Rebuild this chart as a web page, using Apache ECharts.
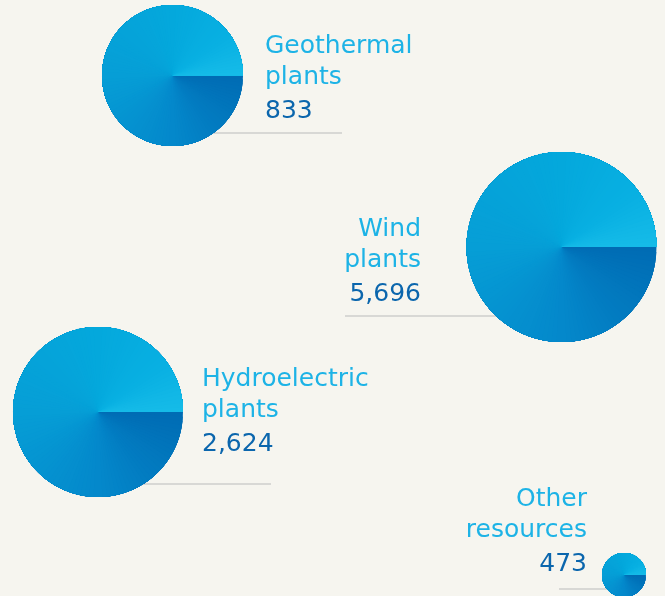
<!DOCTYPE html>
<html>
<head>
<meta charset="utf-8">
<script src="https://cdn.jsdelivr.net/npm/echarts@6/dist/echarts.min.js"></script>
<style>
  html, body { margin: 0; padding: 0; background: #f6f5ef; }
  #main { width: 665px; height: 596px; }
</style>
</head>
<body>
<div id="main"></div>
<script>
// 数据
const categories = ['Geothermal\nplants', 'Wind\nplants', 'Hydroelectric\nplants', 'Other\nresources']
const plantCounts = [833, 5696, 2624, 473]

// 位置和样式 (圆心, 半径, 文字, 灰线)
const layout = [
  { cx: 172.5, cy: 75.5, r: 70.5, textX: 265, align: 'left', nameY: 46, line: [172, 342, 133] },
  { cx: 561.5, cy: 247, r: 95, textX: 421, align: 'right', nameY: 229, line: [345, 560, 316] },
  { cx: 98, cy: 412, r: 85, textX: 202, align: 'left', nameY: 379, line: [98, 271, 484] },
  { cx: 624, cy: 575, r: 22, textX: 587, align: 'right', nameY: 499.5, line: [559, 624, 589] }
]

// 圆锥渐变颜色 (从3点钟方向顺时针: 深 -> 浅)
const colorStops = [
  [0, [0, 108, 180]],
  [0.25, [4, 136, 203]],
  [0.5, [6, 158, 214]],
  [0.75, [4, 168, 220]],
  [0.9, [8, 176, 226]],
  [1, [22, 187, 232]]
]

function colorAt (t) {
  for (let i = 1; i < colorStops.length; i++) {
    if (t <= colorStops[i][0]) {
      let a = colorStops[i - 1]
      let b = colorStops[i]
      let k = (t - a[0]) / (b[0] - a[0])
      let c = a[1].map((v, j) => Math.round(v + (b[1][j] - v) * k))
      return 'rgb(' + c.join(',') + ')'
    }
  }
  return 'rgb(' + colorStops[colorStops.length - 1][1].join(',') + ')'
}

const fontFamily = 'DejaVu Sans'

function renderItem (params, api) {
  let i = api.value(0)
  let value = api.value(1)
  let L = layout[i]
  let children = []

  // 灰色底线
  children.push({
    type: 'line',
    shape: { x1: L.line[0], y1: L.line[2], x2: L.line[1], y2: L.line[2] },
    style: { stroke: '#d8d8d5', lineWidth: 2 }
  })

  // 圆: 叠放的扇形 (每个扇形从自己的起始角一直画到 2π), 避免缝隙
  let n = 120
  let step = Math.PI * 2 / n
  for (let k = 0; k < n; k++) {
    children.push({
      type: 'sector',
      shape: {
        cx: L.cx, cy: L.cy, r0: 0, r: L.r,
        startAngle: k * step,
        endAngle: Math.PI * 2,
        clockwise: true
      },
      style: { fill: colorAt((k + 0.5) / n) }
    })
  }

  // 名称
  children.push({
    type: 'text',
    style: {
      x: L.textX,
      y: L.nameY - 15.5,
      text: categories[i],
      fill: '#1db3e6',
      font: '25px "' + fontFamily + '"',
      lineHeight: 31,
      align: L.align,
      verticalAlign: 'top'
    }
  })
  // 数值
  children.push({
    type: 'text',
    style: {
      x: L.textX,
      y: L.nameY + 65,
      text: value.toLocaleString('en-US'),
      fill: '#0b66ad',
      font: '25px "' + fontFamily + '"',
      align: L.align,
      verticalAlign: 'middle'
    }
  })

  return { type: 'group', children: children }
}

let myChart = echarts.init(document.getElementById('main'))
let option = {
  backgroundColor: '#f6f5ef',
  animation: false,
  series: [
    {
      type: 'custom',
      coordinateSystem: 'none',
      renderItem: renderItem,
      data: categories.map((c, i) => [i, plantCounts[i]])
    }
  ]
}
myChart.setOption(option)
</script>
</body>
</html>
